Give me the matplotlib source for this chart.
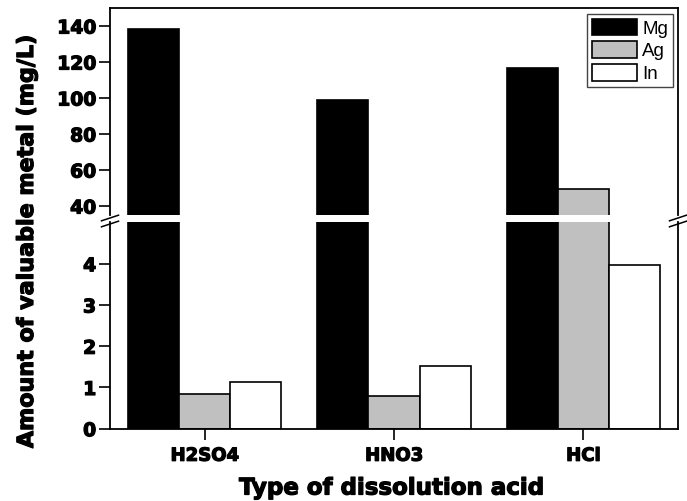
import matplotlib
matplotlib.use("Agg")
import matplotlib.pyplot as plt
import matplotlib.patheffects as pe
import numpy as np

categories = ["H2SO4", "HNO3", "HCl"]
series_names = ["Mg", "Ag", "In"]
mg = [138.5, 99.0, 116.6]
ag = [0.84, 0.80, 49.4]
inn = [1.13, 1.51, 3.97]
colors = ["#000000", "#c0c0c0", "#ffffff"]

upper_ticks = [40, 60, 80, 100, 120, 140]
lower_ticks = [0, 1, 2, 3, 4]

W, H = 687, 501
fig = plt.figure(figsize=(W / 100, H / 100), dpi=100)
left, right = 110 / W, 678 / W
ax_hi = fig.add_axes([left, 1 - 215 / H, right - left, (215 - 8) / H])
ax_lo = fig.add_axes([left, 1 - 428.7 / H, right - left, (428.7 - 221.7) / H])

x = np.arange(len(categories))
width = 0.27
bold_family = ["DejaVu Sans"]
heavy = [pe.withStroke(linewidth=0.9, foreground="black")]

for ax in (ax_hi, ax_lo):
    for i, (vals, c) in enumerate(zip([mg, ag, inn], colors)):
        ax.bar(x + (i - 1) * width, vals, width, color=c, edgecolor="black",
               linewidth=1.2, label=series_names[i])
    ax.set_xlim(-0.5, 2.5)
    for s in ax.spines.values():
        s.set_linewidth(1.3)
    ax.tick_params(axis="y", direction="out", length=8, width=1.2, pad=2)

ax_hi.set_ylim(35, 150)
ax_lo.set_ylim(0, 5.02)
ax_hi.set_yticks(upper_ticks)
ax_lo.set_yticks(lower_ticks)
ax_hi.spines["bottom"].set_visible(False)
ax_lo.spines["top"].set_visible(False)
ax_hi.tick_params(axis="x", bottom=False, labelbottom=False)
ax_lo.set_xticks(x)
ax_lo.set_xticklabels(categories)
ax_lo.tick_params(axis="x", direction="out", length=8, width=1.2, pad=5)

for ax in (ax_hi, ax_lo):
    for lab in ax.get_yticklabels():
        lab.set_fontfamily(bold_family)
        lab.set_fontweight("bold")
        lab.set_fontsize(13.5)
        lab.set_path_effects(heavy)
for lab in ax_lo.get_xticklabels():
    lab.set_fontfamily(bold_family)
    lab.set_fontweight("bold")
    lab.set_fontsize(13)
    lab.set_path_effects(heavy)

# break marks
yb = 221.0
for xp in (left * W, right * W):
    for dy in (-3.0, 3.0):
        x0, x1 = xp - 8.5, xp + 8.5
        y0, y1 = yb + dy + 2.8, yb + dy - 2.8
        fig.add_artist(plt.Line2D([x0 / W, x1 / W], [1 - y0 / H, 1 - y1 / H],
                                  color="black", linewidth=1.1))

leg = ax_hi.legend(loc="upper right", bbox_to_anchor=(1 - 5 / 568, 1 - 6 / 207),
                   fancybox=False, edgecolor="#444444", framealpha=1,
                   prop=dict(family=["Liberation Sans"], size=13.5),
                   handlelength=2.4, handleheight=1.0, handletextpad=0.3,
                   labelspacing=0.2, borderpad=0.25, borderaxespad=0)
leg.get_frame().set_linewidth(1.0)

fig.text(27 / W, 1 - 241 / H, "Amount of valuable metal (mg/L)", rotation=90,
         ha="center", va="center", fontsize=16, family=bold_family,
         fontweight="bold", path_effects=heavy)
fig.text(391 / W, 1 - 488 / H, "Type of dissolution acid", ha="center", va="center",
         fontsize=16.5, family=bold_family, fontweight="bold", path_effects=heavy)

fig.savefig("out.png", dpi=100)
